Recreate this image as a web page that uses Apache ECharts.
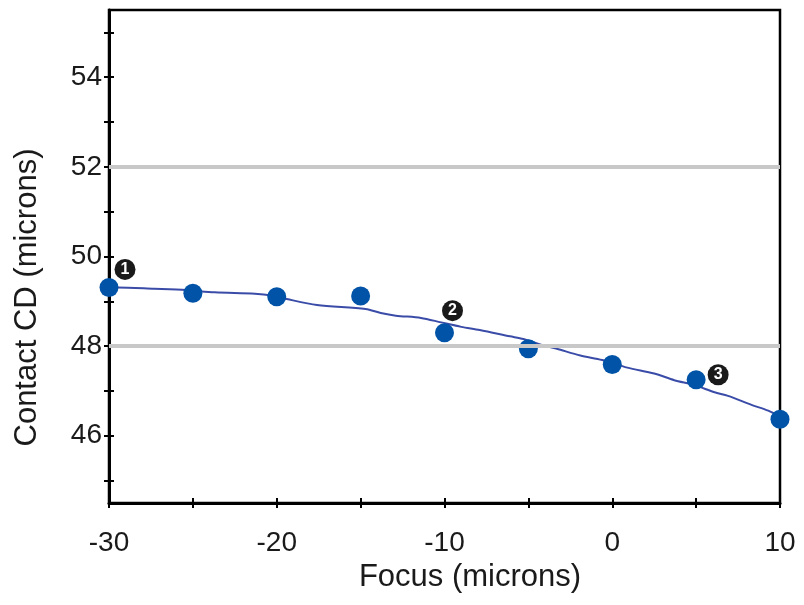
<!DOCTYPE html>
<html>
<head>
<meta charset="utf-8">
<script src="https://cdn.jsdelivr.net/npm/echarts@6/dist/echarts.min.js"></script>
<style>
  html, body { margin: 0; padding: 0; background: #fff; }
  #chart { width: 804px; height: 605px; }
</style>
</head>
<body>
<div id="chart"></div>
<script>
// measured points
const pointX = [-30, -25, -20, -15, -10, -5, 0, 5, 10]
const pointY = [49.31, 49.18, 49.10, 49.12, 48.30, 47.94, 47.59, 47.25, 46.37]

// fitted curve
const fitX = [-30, -29.5, -27.3, -25.4, -23.7, -21.3, -20.3, -19.4, -17.6, -14.7, -13.8, -12.9, -11.4, -10.2, -9, -7.9, -6.1, -5.3, -4.3, -3.3, -1.9, -0.6, 0.9, 2.5, 3.7, 4.9, 6.1, 6.9, 8.3, 9.3, 10]
const fitY = [49.31, 49.31, 49.28, 49.25, 49.20, 49.17, 49.13, 49.05, 48.92, 48.83, 48.74, 48.68, 48.63, 48.53, 48.43, 48.36, 48.22, 48.16, 48.04, 47.94, 47.79, 47.69, 47.52, 47.39, 47.24, 47.13, 46.97, 46.89, 46.69, 46.56, 46.42]

// numbered notes: which point, what number
const noteIndex = [0, 4, 7]
const noteText = ['1', '2', '3']

// spec limits (grey lines)
const limitLines = [48, 52]

const xTicks = [-30, -25, -20, -15, -10, -5, 0, 5, 10]
const xLabels = [-30, -20, -10, 0, 10]
const yTicks = [45, 46, 47, 48, 49, 50, 51, 52, 53, 54, 55]
const yLabels = [46, 48, 50, 52, 54]

const font = '"Liberation Sans", Arial, Helvetica, sans-serif'
const noteOffsets = [[16, -18], [8, -22], [22, -5]]

let chart = echarts.init(document.getElementById('chart'))

let scatterData = pointX.map((x, i) => {
  let item = { value: [x, pointY[i]] }
  let k = noteIndex.indexOf(i)
  if (k >= 0) {
    item.label = {
      show: true,
      position: 'inside',
      offset: noteOffsets[k],
      formatter: noteText[k],
      backgroundColor: '#1a1a1a',
      borderRadius: 11,
      width: 21,
      height: 21,
      lineHeight: 21,
      padding: 0,
      align: 'center',
      verticalAlign: 'middle',
      color: '#fff',
      fontWeight: 'bold',
      fontSize: 16,
      fontFamily: font
    }
  }
  return item
})

let axisLine = { show: true, onZero: false, lineStyle: { color: '#000', width: 3 } }
let tickStyle = { color: '#000', width: 2 }

let option = {
  backgroundColor: '#fff',
  animation: false,
  grid: {
    left: 109,
    right: 24,
    top: 10,
    bottom: 102,
    show: true,
    borderColor: '#000',
    borderWidth: 2.5
  },
  xAxis: [
    {
      type: 'value',
      min: -30,
      max: 10,
      interval: 5,
      name: 'Focus (microns)',
      nameLocation: 'middle',
      nameGap: 56,
      nameTextStyle: { fontSize: 31, color: '#1a1a1a', fontFamily: font, padding: [0, 0, 0, 51] },
      axisLine: axisLine,
      axisTick: { show: true, inside: false, length: 5, lineStyle: tickStyle, customValues: xTicks },
      axisLabel: { fontSize: 28, color: '#1a1a1a', fontFamily: font, margin: 26, customValues: xLabels },
      splitLine: { show: false }
    },
    {
      type: 'value',
      min: -30,
      max: 10,
      interval: 5,
      position: 'bottom',
      axisLine: { show: false, onZero: false },
      axisTick: { show: true, inside: true, length: 5, lineStyle: tickStyle, customValues: xTicks },
      axisLabel: { show: false },
      splitLine: { show: false }
    }
  ],
  yAxis: [
    {
      type: 'value',
      min: 44.5,
      max: 55.5,
      name: 'Contact CD (microns)',
      nameLocation: 'middle',
      nameGap: 66,
      nameTextStyle: { fontSize: 31, color: '#1a1a1a', fontFamily: font, padding: [0, 82, 0, 0] },
      axisLine: axisLine,
      axisTick: { show: true, inside: false, length: 5, lineStyle: tickStyle, customValues: yTicks },
      axisLabel: { fontSize: 28, color: '#1a1a1a', fontFamily: font, margin: 7, customValues: yLabels },
      splitLine: { show: false }
    },
    {
      type: 'value',
      min: 44.5,
      max: 55.5,
      position: 'left',
      axisLine: { show: false, onZero: false },
      axisTick: { show: true, inside: true, length: 5, lineStyle: tickStyle, customValues: yTicks },
      axisLabel: { show: false },
      splitLine: { show: false }
    }
  ],
  series: [
    {
      type: 'line',
      z: 1,
      data: [],
      markLine: {
        silent: true,
        symbol: 'none',
        label: { show: false },
        lineStyle: { color: '#c8c8c8', width: 4, type: 'solid' },
        data: limitLines.map(v => ({ yAxis: v }))
      }
    },
    {
      type: 'line',
      z: 2,
      data: fitX.map((x, i) => [x, fitY[i]]),
      showSymbol: false,
      smooth: 0.3,
      lineStyle: { color: '#3a4ca8', width: 2 }
    },
    {
      type: 'scatter',
      z: 3,
      symbolSize: 19,
      itemStyle: { color: '#0053a6', opacity: 1 },
      data: scatterData
    }
  ]
}

chart.setOption(option)
</script>
</body>
</html>
